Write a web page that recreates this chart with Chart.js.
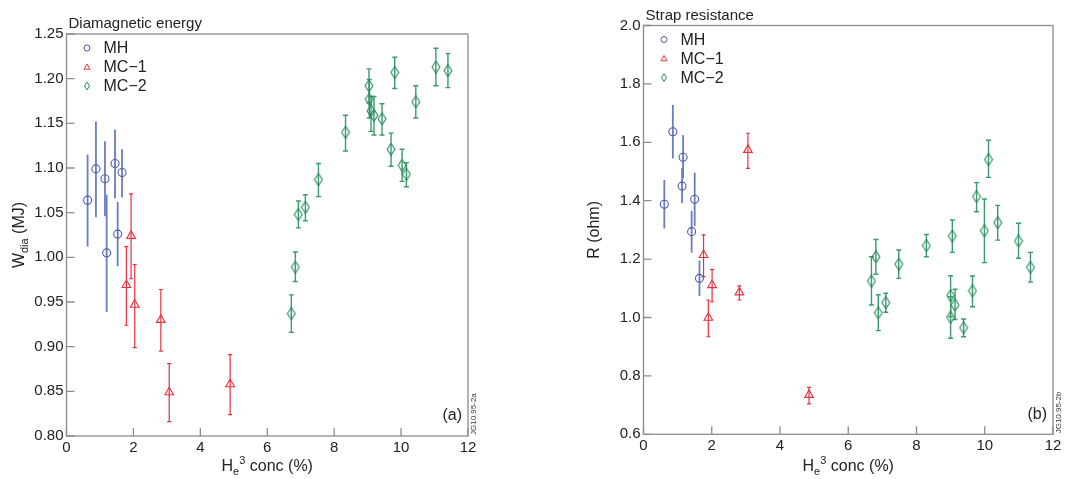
<!DOCTYPE html>
<html><head><meta charset="utf-8">
<script src="https://cdn.jsdelivr.net/npm/chart.js@4.4.1/dist/chart.umd.min.js"></script>
<style>
body{margin:0;background:#fff;width:1067px;height:479px;overflow:hidden;position:relative}
canvas{position:absolute;top:0}
</style></head><body>
<canvas id="wdia" width="533" height="479" style="left:0"></canvas>
<canvas id="strap" width="534" height="479" style="left:533px"></canvas>
<script>
// He3 concentration (%) against diamagnetic energy (a) and strap resistance (b)
const seriesNames = ['MH', 'MC\u22121', 'MC\u22122'];

// panel (a): W_dia (MJ)
const mhConcA   = [0.63, 0.88, 1.15, 1.45, 1.66, 1.53, 1.20];
const mhWdia    = [1.064, 1.099, 1.088, 1.105, 1.095, 1.026, 1.005];
const mhWdiaLo  = [1.012, 1.045, 1.046, 1.066, 1.067, 0.990, 0.939];
const mhWdiaHi  = [1.115, 1.152, 1.130, 1.143, 1.121, 1.062, 1.070];

const mc1ConcA  = [1.93, 1.79, 2.04, 2.82, 3.07, 4.89];
const mc1Wdia   = [1.024, 0.969, 0.947, 0.930, 0.849, 0.858];
const mc1WdiaLo = [0.976, 0.924, 0.899, 0.895, 0.816, 0.824];
const mc1WdiaHi = [1.071, 1.012, 0.992, 0.964, 0.881, 0.891];

const mc2ConcA  = [6.72, 6.84, 6.93, 7.14, 7.53, 8.34, 9.04, 9.05, 9.10, 9.19, 9.43, 9.81, 9.70, 10.03, 10.16, 10.44, 11.04, 11.40];
const mc2Wdia   = [0.937, 0.989, 1.048, 1.056, 1.087, 1.140, 1.192, 1.177, 1.164, 1.159, 1.155, 1.207, 1.121, 1.103, 1.093, 1.174, 1.213, 1.209];
const mc2WdiaLo = [0.916, 0.973, 1.033, 1.041, 1.068, 1.119, 1.173, 1.156, 1.141, 1.137, 1.137, 1.189, 1.102, 1.085, 1.079, 1.156, 1.192, 1.190];
const mc2WdiaHi = [0.958, 1.006, 1.063, 1.070, 1.105, 1.159, 1.211, 1.199, 1.180, 1.180, 1.172, 1.224, 1.139, 1.121, 1.106, 1.192, 1.234, 1.228];

// panel (b): R (ohm)
const mhConcB   = [0.61, 0.86, 1.16, 1.13, 1.50, 1.41, 1.64];
const mhR       = [1.388, 1.636, 1.549, 1.450, 1.405, 1.294, 1.134];
const mhRLo     = [1.305, 1.545, 1.477, 1.391, 1.313, 1.222, 1.074];
const mhRHi     = [1.471, 1.728, 1.625, 1.511, 1.496, 1.365, 1.195];

const mc1ConcB  = [1.76, 2.01, 1.90, 2.81, 3.06, 4.85];
const mc1R      = [1.214, 1.111, 0.999, 1.086, 1.574, 0.735];
const mc1RLo    = [1.140, 1.054, 0.934, 1.060, 1.511, 0.704];
const mc1RHi    = [1.283, 1.165, 1.060, 1.108, 1.631, 0.761];

const mc2ConcB  = [6.68, 6.81, 6.88, 7.10, 7.48, 8.29, 9.05, 9.00, 9.00, 9.13, 9.38, 9.64, 9.76, 9.99, 10.11, 10.38, 10.99, 11.34];
const mc2R      = [1.125, 1.208, 1.016, 1.051, 1.183, 1.246, 1.279, 1.075, 1.001, 1.043, 0.965, 1.091, 1.414, 1.297, 1.541, 1.325, 1.262, 1.172];
const mc2RLo    = [1.043, 1.148, 0.955, 1.018, 1.134, 1.208, 1.223, 1.003, 0.929, 0.993, 0.934, 1.037, 1.362, 1.188, 1.480, 1.265, 1.203, 1.121];
const mc2RHi    = [1.208, 1.267, 1.078, 1.083, 1.231, 1.284, 1.334, 1.143, 1.071, 1.097, 0.995, 1.142, 1.462, 1.406, 1.607, 1.384, 1.323, 1.223];

const FONT = '"Liberation Sans", Arial, Helvetica, sans-serif';
const BLUE = '#4b5ca8', RED = '#e6323e', GREEN = '#23885b';

function pts(xs, ys) { return xs.map((x, i) => ({x: x, y: ys[i]})); }

function markerPath(ctx, style, x, y, r) {
  ctx.beginPath();
  if (style === 'circle') ctx.arc(x, y, r, 0, Math.PI * 2);
  else if (style === 'triangle') {
    ctx.moveTo(x, y - r); ctx.lineTo(x + r, y + r * 0.75); ctx.lineTo(x - r, y + r * 0.75); ctx.closePath();
  } else {
    ctx.moveTo(x, y - r * 1.3); ctx.lineTo(x + r * 0.85, y); ctx.lineTo(x, y + r * 1.3); ctx.lineTo(x - r * 0.85, y); ctx.closePath();
  }
  ctx.stroke();
}

// tall open diamond used as point style for MC-2
const diamondImg = document.createElement('canvas');
diamondImg.width = 10; diamondImg.height = 13;
(function () {
  const c = diamondImg.getContext('2d');
  c.strokeStyle = GREEN; c.lineWidth = 1.1;
  markerPath(c, 'diamond', 5, 6.5, 4.6);
})();

// draw text made of parts [text, size, yShift] centred at cx, cy
function richText(ctx, parts, cx, cy, rotate) {
  ctx.save();
  ctx.translate(cx, cy);
  if (rotate) ctx.rotate(-Math.PI / 2);
  let w = 0;
  parts.forEach(p => { ctx.font = p[1] + 'px ' + FONT; w += ctx.measureText(p[0]).width; });
  let xx = -w / 2;
  ctx.fillStyle = '#222';
  ctx.textAlign = 'left';
  ctx.textBaseline = 'alphabetic';
  parts.forEach(p => {
    ctx.font = p[1] + 'px ' + FONT;
    ctx.fillText(p[0], xx, 6 + p[2]);
    xx += ctx.measureText(p[0]).width;
  });
  ctx.restore();
}

const errorBars = {
  id: 'errorBars',
  beforeDatasetsDraw(chart) {
    const {ctx, scales: {x, y}} = chart;
    chart.data.datasets.forEach(ds => {
      ctx.save();
      ctx.strokeStyle = ds.barColor;
      ctx.lineWidth = ds.barWidth;
      ds.data.forEach((p, i) => {
        const px = x.getPixelForValue(p.x);
        const y1 = y.getPixelForValue(ds.lo[i]), y2 = y.getPixelForValue(ds.hi[i]);
        ctx.beginPath();
        ctx.moveTo(px, y1); ctx.lineTo(px, y2);
        if (ds.cap) {
          ctx.moveTo(px - ds.cap, y1); ctx.lineTo(px + ds.cap, y1);
          ctx.moveTo(px - ds.cap, y2); ctx.lineTo(px + ds.cap, y2);
        }
        ctx.stroke();
      });
      ctx.restore();
    });
  }
};

const decorations = {
  id: 'decorations',
  afterDraw(chart) {
    const {ctx, chartArea: a, scales: {x, y}} = chart;
    const o = chart.options.plugins.decorations;
    ctx.save();
    // frame and inward ticks
    ctx.strokeStyle = '#8c8c8c';
    ctx.lineWidth = 1.3;
    ctx.strokeRect(a.left, a.top, a.right - a.left, a.bottom - a.top);
    ctx.beginPath();
    x.ticks.forEach(t => { const px = x.getPixelForValue(t.value); ctx.moveTo(px, a.bottom); ctx.lineTo(px, a.bottom - 8); });
    y.ticks.forEach(t => { const py = y.getPixelForValue(t.value); ctx.moveTo(a.left, py); ctx.lineTo(a.left + 8, py); });
    ctx.stroke();

    // title
    ctx.fillStyle = '#222';
    ctx.font = '15px ' + FONT;
    ctx.textBaseline = 'middle';
    ctx.textAlign = 'left';
    ctx.fillText(o.title, a.left + 2, a.top - 10);

    // legend
    const colors = [BLUE, RED, GREEN], styles = ['circle', 'triangle', 'diamond'];
    seriesNames.forEach((n, i) => {
      const ry = a.top + 14 + i * 19;
      ctx.strokeStyle = colors[i];
      ctx.lineWidth = 1;
      markerPath(ctx, styles[i], a.left + 20.5, ry, 3);
      ctx.fillStyle = '#222';
      ctx.font = '16px ' + FONT;
      ctx.fillText(n, a.left + 37, ry + 1);
    });

    // panel tag
    ctx.textAlign = 'right';
    ctx.font = '16px ' + FONT;
    ctx.fillText(o.tag, a.right - 6, a.bottom - 20);

    // figure id along right edge
    ctx.save();
    ctx.translate(a.right + 6, a.bottom - 1);
    ctx.rotate(-Math.PI / 2);
    ctx.textAlign = 'left';
    ctx.font = '8px ' + FONT;
    ctx.fillStyle = '#333';
    ctx.fillText(o.figId, 0, 0);
    ctx.restore();

    // axis titles
    richText(ctx, [['H', 16, 0], ['e', 11, 4], ['3', 11, -7], [' conc (%)', 16, 0]], (a.left + a.right) / 2, 465, false);
    richText(ctx, o.yLabel, o.yLabelX, (a.top + a.bottom) / 2, true);
    ctx.restore();
  }
};

function makePanel(id, cfg) {
  const sets = [
    {label: seriesNames[0], data: pts(cfg.mh[0], cfg.mh[1]), lo: cfg.mh[2], hi: cfg.mh[3],
     pointStyle: 'circle', radius: 4, borderColor: BLUE, barColor: '#6a7cc2', barWidth: 1.8, cap: 0},
    {label: seriesNames[1], data: pts(cfg.mc1[0], cfg.mc1[1]), lo: cfg.mc1[2], hi: cfg.mc1[3],
     pointStyle: 'triangle', radius: 5, borderColor: RED, barColor: RED, barWidth: 1.2, cap: 2},
    {label: seriesNames[2], data: pts(cfg.mc2[0], cfg.mc2[1]), lo: cfg.mc2[2], hi: cfg.mc2[3],
     pointStyle: diamondImg, radius: 5, borderColor: GREEN, barColor: '#3a9a6c', barWidth: 1.4, cap: 2.5}
  ];
  sets.forEach(s => { s.backgroundColor = 'rgba(255,255,255,0)'; s.borderWidth = 1.1; s.pointRadius = s.radius; s.pointHoverRadius = s.radius; });

  new Chart(document.getElementById(id).getContext('2d'), {
    type: 'scatter',
    data: {datasets: sets},
    options: {
      responsive: false,
      animation: false,
      devicePixelRatio: 1,
      layout: {padding: cfg.padding},
      plugins: {
        legend: {display: false},
        tooltip: {enabled: false},
        decorations: {title: cfg.title, tag: cfg.tag, figId: cfg.figId, yLabel: cfg.yLabel, yLabelX: cfg.yLabelX}
      },
      scales: {
        x: {
          type: 'linear', min: 0, max: 12,
          afterFit(s) { s.height = cfg.xHeight; },
          grid: {display: false, drawTicks: false},
          border: {display: false},
          ticks: {stepSize: 2, padding: 3, color: '#222', font: {family: FONT, size: 15}}
        },
        y: {
          type: 'linear', min: cfg.yMin, max: cfg.yMax,
          afterFit(s) { s.width = cfg.yWidth; },
          grid: {display: false, drawTicks: false},
          border: {display: false},
          ticks: {stepSize: cfg.yStep, padding: 3, color: '#222', font: {family: FONT, size: 15},
                  callback: v => v.toFixed(cfg.yDigits)}
        }
      }
    },
    plugins: [errorBars, decorations]
  });
}

makePanel('wdia', {
  mh: [mhConcA, mhWdia, mhWdiaLo, mhWdiaHi],
  mc1: [mc1ConcA, mc1Wdia, mc1WdiaLo, mc1WdiaHi],
  mc2: [mc2ConcA, mc2Wdia, mc2WdiaLo, mc2WdiaHi],
  yMin: 0.8, yMax: 1.25, yStep: 0.05, yDigits: 2,
  padding: {left: 0, top: 34, right: 65, bottom: 0},
  yWidth: 66.5, xHeight: 43,
  title: 'Diamagnetic energy', tag: '(a)', figId: 'JG10.95-2a',
  yLabel: [['W', 16, 0], ['dia', 11, 4], [' (MJ)', 16, 0]], yLabelX: 18
});

makePanel('strap', {
  mh: [mhConcB, mhR, mhRLo, mhRHi],
  mc1: [mc1ConcB, mc1R, mc1RLo, mc1RHi],
  mc2: [mc2ConcB, mc2R, mc2RLo, mc2RHi],
  yMin: 0.6, yMax: 2.0, yStep: 0.2, yDigits: 1,
  padding: {left: 50.5, top: 25.5, right: 14, bottom: 0},
  yWidth: 60, xHeight: 44.7,
  title: 'Strap resistance', tag: '(b)', figId: 'JG10.95-2b',
  yLabel: [['R (ohm)', 16, 0]], yLabelX: 60
});
</script>
</body></html>
